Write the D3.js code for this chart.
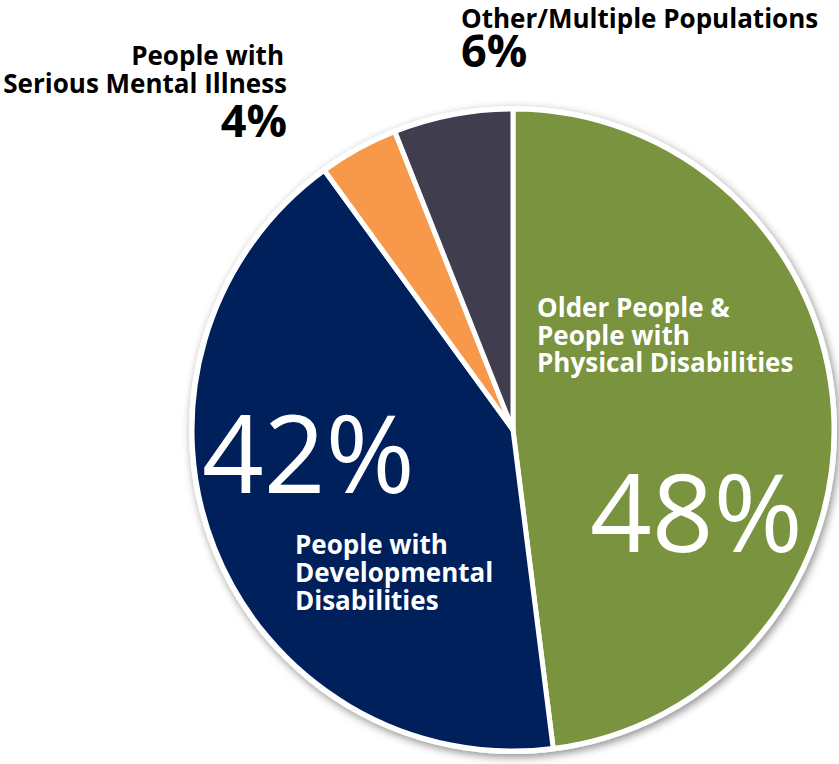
<!DOCTYPE html>
<html>
<head>
<meta charset="utf-8">
<script src="https://cdn.jsdelivr.net/npm/d3@7"></script>
<style>
  html, body { margin: 0; padding: 0; background: #fff; }
  svg { display: block; }
  text { font-family: "Open Sans", "Noto Sans", sans-serif; }
</style>
</head>
<body>
<svg id="chart" width="839" height="764"></svg>
<script>
// Share of service users by population group
const groups = [
  "Older People & People with Physical Disabilities",
  "People with Developmental Disabilities",
  "People with Serious Mental Illness",
  "Other/Multiple Populations"
];
const shares = [48, 42, 4, 6];
const colors = ["#7a933e", "#00205b", "#f7984a", "#3f3d4e"];

const svg = d3.select("#chart");
const cx = 513, cy = 430, R = 323;

const defs = svg.append("defs");
const f = defs.append("filter").attr("id", "shadow")
  .attr("x", "-10%").attr("y", "-10%").attr("width", "120%").attr("height", "120%");
f.append("feDropShadow").attr("dx", 2).attr("dy", 3).attr("stdDeviation", 4)
  .attr("flood-color", "#000").attr("flood-opacity", 0.45);

const pie = d3.pie().sort(null).value(d => d)(shares);
const arc = d3.arc().innerRadius(0).outerRadius(R - 2);

const g = svg.append("g").attr("transform", `translate(${cx},${cy})`);

// white disc with shadow behind the slices
g.append("circle").attr("r", R + 1).attr("fill", "#fff").attr("filter", "url(#shadow)");

g.selectAll("path.slice").data(pie).join("path")
  .attr("class", "slice")
  .attr("d", arc)
  .attr("fill", (d, i) => colors[i])
  .attr("stroke", "#fff")
  .attr("stroke-width", 5)
  .attr("stroke-linejoin", "round");

// text helpers
function block(x, y, lines, opts) {
  const t = svg.append("text")
    .attr("x", x).attr("y", y)
    .attr("fill", opts.fill)
    .attr("font-size", opts.size)
    .attr("font-weight", opts.weight || 700)
    .attr("text-anchor", opts.anchor || "start")
    .attr("letter-spacing", opts.ls || 0);
  lines.forEach((l, i) => {
    t.append("tspan").attr("x", x).attr("dy", i === 0 ? 0 : opts.lh).text(l);
  });
  return t;
}

const pct = d => d + "%";

// outside labels (small slices)
block(284, 65, ["People with"], { fill: "#000", size: 26, anchor: "end" });
block(287, 93, ["Serious Mental Illness"], { fill: "#000", size: 26, anchor: "end" });
block(287, 137, [pct(shares[2])], { fill: "#000", size: 45, anchor: "end" });

block(461, 28, ["Other/Multiple Populations"], { fill: "#000", size: 26 });
block(461, 67, [pct(shares[3])], { fill: "#000", size: 45 });

// inside labels
block(537, 317, ["Older People &", "People with", "Physical Disabilities"], { fill: "#fff", size: 26, lh: 27.5 });
block(590, 552, [pct(shares[0])], { fill: "#fff", size: 108, weight: 400 });

block(202, 493, [pct(shares[1])], { fill: "#fff", size: 108, weight: 400 });
block(295, 554, ["People with", "Developmental", "Disabilities"], { fill: "#fff", size: 26, lh: 28 });
</script>
</body>
</html>
